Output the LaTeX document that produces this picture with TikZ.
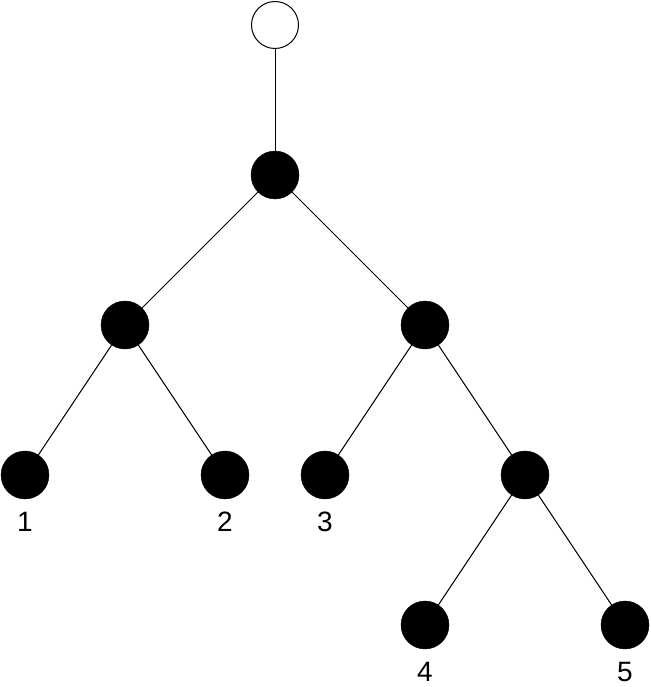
\documentclass[tikz,border=0pt]{standalone}
\usepackage{fontspec}
\setmainfont{Liberation Sans}
\begin{document}
\begin{tikzpicture}[x=1pt,y=-1pt,
  dot/.style={circle,fill=black,draw=black,minimum size=48pt,inner sep=0pt},
  open/.style={circle,fill=white,draw=black,line width=1pt,minimum size=47pt,inner sep=0pt},
  lab/.style={font=\fontsize{28}{30}\selectfont,inner sep=0pt},
  edge/.style={line width=1pt}]
\useasboundingbox (0,0) rectangle (650,687);
\node[open] (r) at (275,25) {};
\node[dot] (a) at (275,175) {};
\node[dot] (b) at (125,325) {};
\node[dot] (c) at (425,325) {};
\node[dot] (l1) at (25,475) {};
\node[dot] (l2) at (225,475) {};
\node[dot] (l3) at (325,475) {};
\node[dot] (d) at (525,475) {};
\node[dot] (l4) at (425,625) {};
\node[dot] (l5) at (625,625) {};
\draw[edge] (r) -- (a); \draw[edge] (a) -- (b); \draw[edge] (a) -- (c);
\draw[edge] (b) -- (l1); \draw[edge] (b) -- (l2);
\draw[edge] (c) -- (l3); \draw[edge] (c) -- (d);
\draw[edge] (d) -- (l4); \draw[edge] (d) -- (l5);
\node[lab] (t1) at (25,522) {1};
\node[lab] (t2) at (225,522) {2};
\node[lab] (t3) at (325,522) {3};
\node[lab] (t4) at (425,672) {4};
\node[lab] (t5) at (625,672) {5};
\end{tikzpicture}
\end{document}
